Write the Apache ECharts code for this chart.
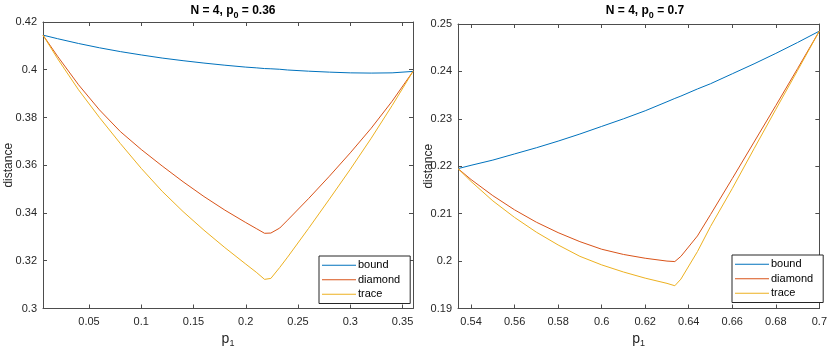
<!DOCTYPE html>
<html><head><meta charset="utf-8">
<script src="https://cdn.jsdelivr.net/npm/echarts@6/dist/echarts.min.js"></script>
<style>html,body{margin:0;padding:0;background:#fff}#c{width:830px;height:353px}</style>
</head><body><div id="c"></div>
<script>
// ---- data ----
var leftP =      [0.006, 0.02, 0.04, 0.06, 0.08, 0.10, 0.12, 0.14, 0.16, 0.18, 0.20, 0.21, 0.218, 0.224, 0.2325, 0.24, 0.26, 0.28, 0.30, 0.32, 0.34, 0.36];
var leftBound =  [0.4145,0.4130,0.4110,0.4092,0.4076,0.4062,0.4049,0.4038,0.4028,0.4019,0.4011,0.4008,0.4005,0.4004,0.4002,0.3999,0.3994,0.3990,0.3987,0.3986,0.3987,0.3993];
var leftDiamond =[0.4145,0.4056,0.3937,0.3832,0.3741,0.3666,0.3597,0.3531,0.3469,0.3412,0.3360,0.3335,0.3315,0.3316,0.3337,0.3370,0.3460,0.3554,0.3652,0.3755,0.3868,0.3993];
var leftTrace =  [0.4145,0.4046,0.3916,0.3800,0.3691,0.3587,0.3491,0.3406,0.3328,0.3255,0.3186,0.3152,0.3122,0.3126,0.3172,0.3215,0.3335,0.3458,0.3583,0.3713,0.3850,0.3993];

var rightP =      [0.534, 0.54, 0.55, 0.56, 0.57, 0.58, 0.59, 0.60, 0.61, 0.62, 0.63, 0.6336, 0.6364, 0.644, 0.65, 0.66, 0.67, 0.68, 0.69, 0.70];
var rightBound =  [0.2195,0.2202,0.2213,0.2226,0.2239,0.2253,0.2268,0.2284,0.2300,0.2317,0.2336,0.2343,0.2348,0.2363,0.2374,0.2395,0.2416,0.2438,0.2461,0.2485];
var rightDiamond =[0.2195,0.2172,0.2138,0.2108,0.2082,0.2060,0.2041,0.2025,0.2014,0.2006,0.2000,0.1999,0.2010,0.2053,0.2098,0.2174,0.2251,0.2328,0.2406,0.2485];
var rightTrace =  [0.2195,0.2168,0.2127,0.2092,0.2061,0.2034,0.2010,0.1992,0.1977,0.1964,0.1953,0.1948,0.1962,0.2020,0.2073,0.2153,0.2237,0.2320,0.2402,0.2485];

var seriesNames = ['bound', 'diamond', 'trace'];
var leftXTicks = [0.05, 0.1, 0.15, 0.2, 0.25, 0.3, 0.35];
var leftYTicks = [0.3, 0.32, 0.34, 0.36, 0.38, 0.4, 0.42];
var rightXTicks = [0.54, 0.56, 0.58, 0.6, 0.62, 0.64, 0.66, 0.68, 0.7];
var rightYTicks = [0.19, 0.2, 0.21, 0.22, 0.23, 0.24, 0.25];
var titles = [['N = 4, p', '0', ' = 0.36'], ['N = 4, p', '0', ' = 0.7']];

// ---- styling ----
var FONT = '"Liberation Sans", Arial, sans-serif';
var AX = '#4d4d4d', TXT = '#262626';
var colors = ['#0072BD', '#D95319', '#EDB120'];

function pairs(xs, ys) { return xs.map(function (x, i) { return [x, ys[i]]; }); }
function fmt(v) { return String(+v.toFixed(4)); }

function xAx(gi, min, max, ticks, pos, show) {
  return {
    type: 'value', gridIndex: gi, min: min, max: max, position: pos,
    axisLine: { show: true, onZero: false, lineStyle: { color: AX, width: 1 } },
    axisTick: { show: true, inside: true, length: 4, customValues: ticks, lineStyle: { color: AX } },
    axisLabel: { show: show, customValues: ticks, formatter: fmt, color: TXT, fontFamily: FONT, fontSize: 11, margin: 8 },
    splitLine: { show: false },
    name: show ? '{p|p}{s|1}' : '', nameLocation: 'middle', nameGap: 23, nameMoveOverlap: false,
    nameTextStyle: { rich: { p: { fontSize: 14, color: TXT, fontFamily: FONT, lineHeight: 16 },
                             s: { fontSize: 9, color: TXT, fontFamily: FONT, lineHeight: 10, padding: [8, 0, 0, 0] } } }
  };
}
function yAx(gi, min, max, ticks, pos, show, gap) {
  return {
    type: 'value', gridIndex: gi, min: min, max: max, position: pos,
    axisLine: { show: true, onZero: false, lineStyle: { color: AX, width: 1 } },
    axisTick: { show: true, inside: true, length: 4, customValues: ticks, lineStyle: { color: AX } },
    axisLabel: { show: show, customValues: ticks, formatter: fmt, color: TXT, fontFamily: FONT, fontSize: 11, margin: 6 },
    splitLine: { show: false },
    name: show ? 'distance' : '', nameLocation: 'middle', nameGap: gap || 27, nameRotate: 90, nameMoveOverlap: false,
    nameTextStyle: { color: TXT, fontFamily: FONT, fontSize: 12 }
  };
}
function titleOf(t, left) {
  return {
    text: '{b|' + t[0] + '}{s|' + t[1] + '}{b|' + t[2] + '}',
    left: left, top: 0, textAlign: 'center',
    textStyle: { rich: {
      b: { fontSize: 12, fontWeight: 'bold', color: '#000', fontFamily: FONT, lineHeight: 14, verticalAlign: 'top' },
      s: { fontSize: 9, fontWeight: 'bold', color: '#000', fontFamily: FONT, lineHeight: 11, padding: [7, 0, 0, 0] } } }
  };
}
function legendOf(left, top) {
  return {
    data: seriesNames, orient: 'vertical', left: left, top: top,
    icon: 'rect', itemWidth: 34, itemHeight: 1.2, itemGap: 2,
    backgroundColor: '#fff', borderColor: '#262626', borderWidth: 1, borderRadius: 0,
    padding: [3, 10, 3, 3], selectedMode: false,
    textStyle: { color: '#000', fontFamily: FONT, fontSize: 11, lineHeight: 12.5, padding: [0, 0, 0, -3] }
  };
}
function line(name, xi, yi, data, ci) {
  return { type: 'line', name: name, xAxisIndex: xi, yAxisIndex: yi, data: data,
    symbol: 'none', smooth: false, color: colors[ci], lineStyle: { width: 1, color: colors[ci] }, z: 3 };
}

var chart = echarts.init(document.getElementById('c'), null, { renderer: 'canvas' });
chart.setOption({
  animation: false,
  backgroundColor: '#fff',
  title: [titleOf(titles[0], 228), titleOf(titles[1], 640)],
  legend: [legendOf(319, 256), legendOf(732, 255)],
  grid: [
    { left: 43, top: 22, width: 370, height: 290, containLabel: false },
    { left: 458, top: 24, width: 365, height: 286, containLabel: false }
  ],
  xAxis: [
    xAx(0, 0.006, 0.36, leftXTicks, 'bottom', true),
    xAx(0, 0.006, 0.36, leftXTicks, 'top', false),
    xAx(1, 0.534, 0.7, rightXTicks, 'bottom', true),
    xAx(1, 0.534, 0.7, rightXTicks, 'top', false)
  ],
  yAxis: [
    yAx(0, 0.3, 0.42, leftYTicks, 'left', true, 28),
    yAx(0, 0.3, 0.42, leftYTicks, 'right', false),
    yAx(1, 0.19, 0.25, rightYTicks, 'left', true, 23),
    yAx(1, 0.19, 0.25, rightYTicks, 'right', false)
  ],
  series: [
    line('bound', 0, 0, pairs(leftP, leftBound), 0),
    line('diamond', 0, 0, pairs(leftP, leftDiamond), 1),
    line('trace', 0, 0, pairs(leftP, leftTrace), 2),
    line('bound', 2, 2, pairs(rightP, rightBound), 0),
    line('diamond', 2, 2, pairs(rightP, rightDiamond), 1),
    line('trace', 2, 2, pairs(rightP, rightTrace), 2)
  ]
});
</script></body></html>
